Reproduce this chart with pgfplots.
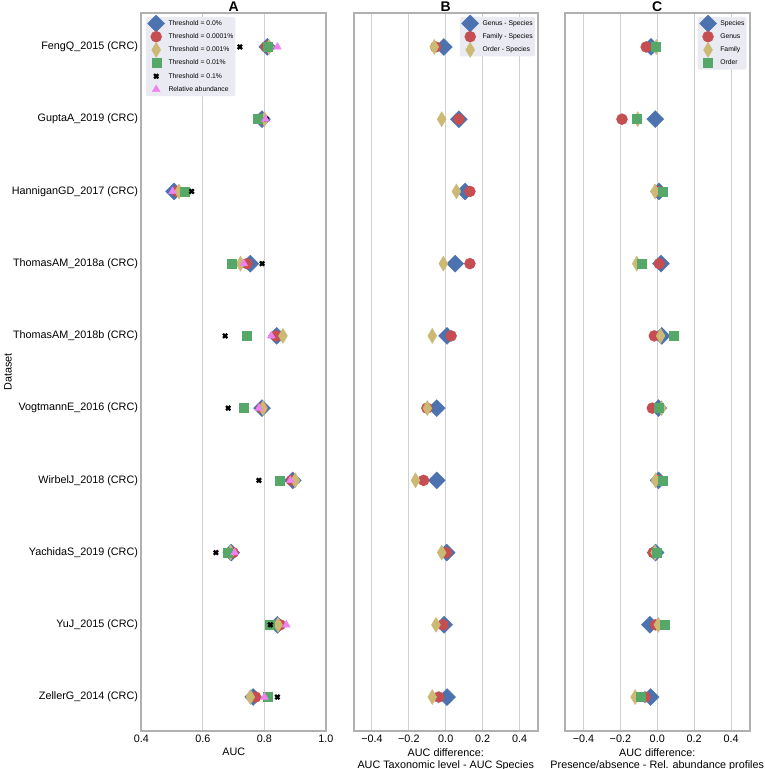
\documentclass[border=0pt]{standalone}
\usepackage{fontspec}
\setmainfont{Liberation Sans}
\usepackage{pgfplots}
\usepackage{pgfplotstable}
\pgfplotsset{compat=1.18}
\definecolor{cblue}{RGB}{76,114,176}
\definecolor{cred}{RGB}{196,78,82}
\definecolor{cgold}{RGB}{204,185,116}
\definecolor{cgreen}{RGB}{85,168,104}
\definecolor{cviolet}{RGB}{238,130,238}
\definecolor{legbg}{RGB}{234,234,242}
\definecolor{spine}{RGB}{176,176,176}
\definecolor{gridc}{RGB}{208,208,208}

\pgfplotstableread{
r t0 t1 t2 t3 t4 rel
0 0.809 0.805 0.815 0.809 0.720 0.842
1 0.792 0.790 0.800 0.779 0.806 0.803
2 0.506 0.514 0.522 0.542 0.563 0.501
3 0.754 0.743 0.722 0.692 0.792 0.733
4 0.840 0.838 0.860 0.741 0.672 0.822
5 0.792 0.792 0.795 0.731 0.682 0.782
6 0.892 0.889 0.900 0.851 0.782 0.884
7 0.692 0.698 0.690 0.680 0.642 0.703
8 0.842 0.851 0.844 0.817 0.819 0.871
9 0.763 0.771 0.754 0.811 0.842 0.800
}\tabA

\pgfplotstableread{
r genus family order
0 -0.010 -0.055 -0.062
1 0.071 0.071 -0.022
2 0.105 0.131 0.058
3 0.051 0.131 -0.013
4 0.007 0.029 -0.073
5 -0.049 -0.102 -0.100
6 -0.049 -0.120 -0.164
7 0.005 0.004 -0.022
8 -0.009 -0.015 -0.053
9 0.007 -0.038 -0.073
}\tabB

\pgfplotstableread{
r species genus family order
0 -0.034 -0.060 -0.005 -0.010
1 -0.011 -0.191 -0.106 -0.110
2 0.009 0.006 -0.012 0.031
3 0.020 0.011 -0.111 -0.083
4 0.025 -0.016 0.018 0.089
5 0.007 -0.027 0.024 0.009
6 0.007 0.009 -0.009 0.031
7 -0.009 -0.022 -0.012 -0.002
8 -0.040 -0.009 0.006 0.038
9 -0.036 -0.066 -0.120 -0.088
}\tabC

\pgfplotsset{
  every axis title/.style={at={(axis description cs:0.5,1)}, anchor=base, yshift=1.8pt, font=\bfseries\fontsize{14}{14}\selectfont},
  panel/.style={
    width=184.5pt, height=718pt, scale only axis,
    ymin=-0.47, ymax=9.47, y dir=reverse,
    ytick={0,...,9}, major tick length=0pt,
    xmajorgrids, major grid style={color=gridc, line width=1pt},
    axis line style={draw=spine, line width=2pt},
    tick label style={font=\fontsize{10.8}{12}\selectfont},
    xlabel style={at={(axis description cs:0.5,0)}, anchor=north, yshift=-17pt, align=center, inner sep=0pt, font=\fontsize{10.8}{12}\selectfont},
    legend cell align=left,
    legend image code/.code={\draw[##1,overlay] plot coordinates {(8.3pt,0pt)}; \path[draw=none,fill=none] (0pt,-1pt) rectangle (20.6pt,1pt);},
    legend style={fill=legbg, draw=none, rounded corners=2pt, font=\fontsize{6.8}{8}\selectfont,
      inner xsep=2pt, inner ysep=3.2pt, row sep=6.5pt, cells={anchor=west},
      nodes={inner sep=0pt, text height=5.2pt, text depth=1.5pt}},
  },
  bluediam/.style={only marks, mark=square*, mark size=6pt, mark options={rotate=45, fill=cblue, draw=cblue}},
  redcirc/.style={only marks, mark=*, mark size=5.5pt, mark options={fill=cred, draw=cred}},
  golddiam/.style={only marks, mark=diamond*, mark size=7.5pt, mark options={xscale=0.8, fill=cgold, draw=cgold}},
  greensq/.style={only marks, mark=square*, mark size=4.5pt, mark options={fill=cgreen, draw=cgreen}},
  blackx/.style={only marks, mark=x, mark size=3pt, mark options={line width=2.3pt, draw=black}},
  pinktri/.style={only marks, mark=triangle*, mark size=4.5pt, mark options={fill=cviolet, draw=cviolet}},
}

\begin{document}
\begin{tikzpicture}
\useasboundingbox (0,0) rectangle (765pt,769pt);

% Panel A
\begin{axis}[panel, at={(141.5pt,38pt)}, anchor=south west,
  xmin=0.4, xmax=1.0, xtick={0.4,0.6,0.8,1.0}, xticklabels={0.4,0.6,0.8,1.0},
  yticklabels={FengQ\_2015 (CRC), GuptaA\_2019 (CRC), HanniganGD\_2017 (CRC), ThomasAM\_2018a (CRC), ThomasAM\_2018b (CRC), VogtmannE\_2016 (CRC), WirbelJ\_2018 (CRC), YachidaS\_2019 (CRC), YuJ\_2015 (CRC), ZellerG\_2014 (CRC)},
  title={A}, xlabel={AUC}, ylabel={Dataset},
  ylabel style={at={(axis description cs:-0.7236,0.5)}, anchor=center, rotate=0, font=\fontsize{10.8}{12}\selectfont},
  legend style={at={(axis description cs:0.0228,0.9948)}, anchor=north west},
]
\addplot[bluediam] table[x=t0,y=r]{\tabA};
\addlegendentry{Threshold = 0.0\%}
\addplot[redcirc] table[x=t1,y=r]{\tabA};
\addlegendentry{Threshold = 0.0001\%}
\addplot[golddiam] table[x=t2,y=r]{\tabA};
\addlegendentry{Threshold = 0.001\%}
\addplot[greensq] table[x=t3,y=r]{\tabA};
\addlegendentry{Threshold = 0.01\%}
\addplot[blackx] table[x=t4,y=r]{\tabA};
\addlegendentry{Threshold = 0.1\%}
\addplot[pinktri] table[x=rel,y=r]{\tabA};
\addlegendentry{Relative abundance}
\end{axis}

% Panel B
\begin{axis}[panel, at={(353.5pt,38pt)}, anchor=south west,
  xmin=-0.5, xmax=0.5, xtick={-0.4,-0.2,0,0.2,0.4}, xticklabels={−0.4,−0.2,0.0,0.2,0.4},
  yticklabels={},
  title={B}, xlabel={AUC difference:\\AUC Taxonomic level - AUC Species},
  legend style={at={(axis description cs:0.9837,0.9948)}, anchor=north east},
]
\addplot[bluediam] table[x=genus,y=r]{\tabB};
\addlegendentry{Genus - Species}
\addplot[redcirc] table[x=family,y=r]{\tabB};
\addlegendentry{Family - Species}
\addplot[golddiam] table[x=order,y=r]{\tabB};
\addlegendentry{Order - Species}
\end{axis}

% Panel C
\begin{axis}[panel, at={(565pt,38pt)}, anchor=south west,
  xmin=-0.5, xmax=0.5, xtick={-0.4,-0.2,0,0.2,0.4}, xticklabels={−0.4,−0.2,0.0,0.2,0.4},
  yticklabels={},
  title={C}, xlabel={AUC difference:\\Presence/absence - Rel. abundance profiles},
  legend style={at={(axis description cs:0.985,0.9948)}, anchor=north east},
]
\addplot[bluediam] table[x=species,y=r]{\tabC};
\addlegendentry{Species}
\addplot[redcirc] table[x=genus,y=r]{\tabC};
\addlegendentry{Genus}
\addplot[golddiam] table[x=family,y=r]{\tabC};
\addlegendentry{Family}
\addplot[greensq] table[x=order,y=r]{\tabC};
\addlegendentry{Order}
\end{axis}
\end{tikzpicture}
\end{document}
